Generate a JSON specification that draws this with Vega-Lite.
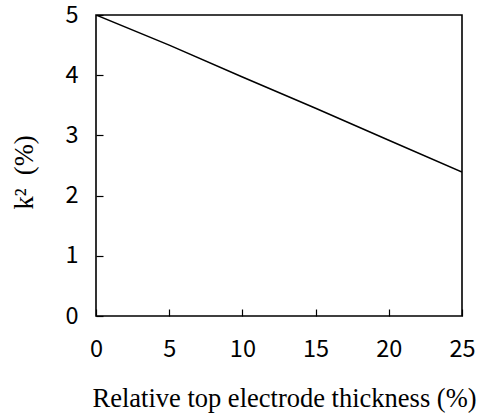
{
  "$schema": "https://vega.github.io/schema/vega-lite/v6.json",
  "width": 366,
  "height": 301,
  "autosize": {"type": "none"},
  "padding": {"left": 96, "top": 15, "right": 19, "bottom": 99},
  "background": "white",
  "config": {
    "view": {"stroke": "black", "strokeWidth": 1.6},
    "axis": {
      "domain": false,
      "grid": false,
      "ticks": true,
      "tickColor": "black",
      "tickWidth": 1.2,
      "tickSize": -7,
      "labelFont": "Noto Sans CJK JP",
      "labelFontSize": 23.5,
      "labelColor": "black",
      "titleFont": "Liberation Serif",
      "titleFontSize": 26.5,
      "titleFontWeight": "normal",
      "titleColor": "black"
    }
  },
  "data": {
    "values": [
      {"t": 0, "k2": 5.0},
      {"t": 5, "k2": 4.5},
      {"t": 10, "k2": 3.97},
      {"t": 15, "k2": 3.45},
      {"t": 20, "k2": 2.92},
      {"t": 25, "k2": 2.39}
    ]
  },
  "mark": {"type": "line", "color": "black", "strokeWidth": 1.5, "clip": true},
  "encoding": {
    "x": {
      "field": "t",
      "type": "quantitative",
      "scale": {"domain": [0, 25], "nice": false},
      "axis": {
        "values": [0, 5, 10, 15, 20, 25],
        "title": "Relative top electrode thickness (%)",
        "titleX": 188,
        "labelPadding": 28,
        "titlePadding": 25,
        "labelFlush": false
      }
    },
    "y": {
      "field": "k2",
      "type": "quantitative",
      "scale": {"domain": [0, 5], "nice": false},
      "axis": {
        "values": [0, 1, 2, 3, 4, 5],
        "title": "k\u00b2 \u00a0(%)",
        "titleY": 157,
        "labelPadding": 25,
        "titlePadding": 26,
        "labelFlush": false
      }
    }
  }
}
